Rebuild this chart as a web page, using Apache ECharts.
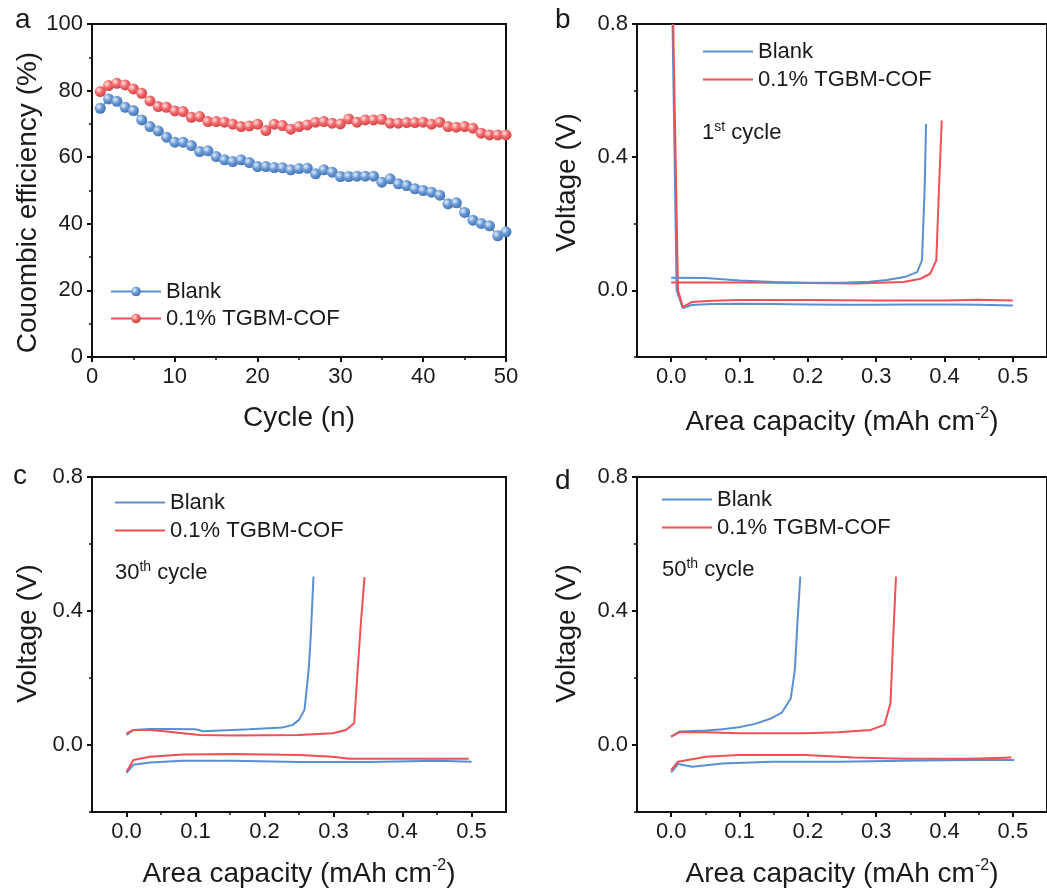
<!DOCTYPE html>
<html>
<head>
<meta charset="utf-8">
<script src="https://cdn.jsdelivr.net/npm/echarts@6/dist/echarts.min.js"></script>
<style>
html,body{margin:0;padding:0;background:#fff;}
#chart{width:1047px;height:892px;}
</style>
</head>
<body>
<div id="chart"></div>
<script>
// ---------- Data ----------
const cycles = [1,2,3,4,5,6,7,8,9,10,11,12,13,14,15,16,17,18,19,20,21,22,23,24,25,26,27,28,29,30,31,32,33,34,35,36,37,38,39,40,41,42,43,44,45,46,47,48,49,50];
const ceBlank = [74.7,77.5,76.8,75.0,74.0,71.2,69.2,67.9,66.0,64.5,64.5,63.5,61.7,61.9,60.2,59.2,58.7,59.2,58.4,57.2,57.2,56.9,56.8,56.2,56.6,56.7,55.0,56.2,55.5,54.2,54.2,54.3,54.3,54.3,52.5,53.5,52.0,51.5,50.5,50.0,49.5,48.6,46.0,46.3,43.4,41.1,40.1,39.4,36.4,37.6];
const ceCOF = [79.7,81.5,82.2,81.7,80.5,79.2,76.9,75.2,75.0,73.9,73.7,72.0,72.2,70.7,70.7,70.5,69.9,69.2,69.4,69.9,68.0,69.9,69.5,68.4,69.2,69.7,70.5,70.7,70.2,70.0,71.5,70.5,71.2,71.2,71.4,70.2,70.2,70.4,70.4,70.5,69.9,70.5,69.2,69.0,69.2,68.7,67.2,66.7,66.7,66.7];

const ceXTicks = [0,10,20,30,40,50];
const ceYTicks = [0,20,40,60,80,100];
const capTicks = [0,0.1,0.2,0.3,0.4,0.5];
const capMinorTicks = [0.05,0.15,0.25,0.35,0.45];
const voltTicks = [0,0.4,0.8];
const voltMinorTicks = [-0.2,0.2,0.6];

// 1st cycle: [capacity, voltage]
const c1BlankPlate = [[0.002,0.80],[0.008,0.0],[0.017,-0.053],[0.03,-0.044],[0.06,-0.041],[0.1,-0.040],[0.15,-0.041],[0.2,-0.042],[0.25,-0.043],[0.3,-0.043],[0.35,-0.042],[0.4,-0.042],[0.45,-0.043],[0.5,-0.045]];
const c1BlankStrip = [[0.0,0.038],[0.05,0.037],[0.1,0.030],[0.15,0.025],[0.2,0.023],[0.25,0.023],[0.29,0.026],[0.316,0.031],[0.341,0.040],[0.360,0.055],[0.367,0.090],[0.371,0.31],[0.373,0.50]];
const c1CofPlate = [[0.003,0.80],[0.010,0.0],[0.017,-0.050],[0.03,-0.035],[0.06,-0.031],[0.1,-0.029],[0.2,-0.029],[0.3,-0.030],[0.4,-0.030],[0.45,-0.028],[0.5,-0.030]];
const c1CofStrip = [[0.0,0.024],[0.1,0.024],[0.2,0.022],[0.27,0.021],[0.34,0.025],[0.365,0.035],[0.379,0.050],[0.388,0.090],[0.392,0.31],[0.396,0.51]];

// 30th cycle
const c30BlankStrip = [[0.0,0.030],[0.01,0.045],[0.034,0.048],[0.058,0.048],[0.10,0.047],[0.111,0.041],[0.178,0.047],[0.226,0.052],[0.241,0.060],[0.250,0.075],[0.258,0.105],[0.264,0.224],[0.267,0.324],[0.271,0.503]];
const c30BlankPlate = [[0.0,-0.083],[0.01,-0.059],[0.034,-0.052],[0.082,-0.047],[0.154,-0.047],[0.25,-0.051],[0.35,-0.051],[0.45,-0.047],[0.5,-0.050]];
const c30CofStrip = [[0.0,0.035],[0.01,0.045],[0.034,0.045],[0.058,0.040],[0.106,0.030],[0.154,0.028],[0.25,0.030],[0.299,0.035],[0.318,0.045],[0.330,0.065],[0.335,0.224],[0.340,0.373],[0.345,0.501]];
const c30CofPlate = [[0.0,-0.080],[0.01,-0.045],[0.034,-0.035],[0.082,-0.028],[0.154,-0.027],[0.25,-0.030],[0.299,-0.035],[0.323,-0.041],[0.395,-0.041],[0.45,-0.041],[0.496,-0.041]];

// 50th cycle
const c50BlankStrip = [[0.0,0.025],[0.012,0.040],[0.051,0.043],[0.075,0.047],[0.099,0.053],[0.123,0.063],[0.147,0.080],[0.162,0.097],[0.175,0.139],[0.181,0.224],[0.185,0.373],[0.189,0.503]];
const c50BlankPlate = [[0.0,-0.082],[0.010,-0.057],[0.031,-0.065],[0.075,-0.055],[0.147,-0.050],[0.244,-0.050],[0.34,-0.047],[0.437,-0.045],[0.502,-0.045]];
const c50CofStrip = [[0.0,0.025],[0.012,0.038],[0.051,0.038],[0.099,0.035],[0.196,0.035],[0.244,0.038],[0.292,0.045],[0.312,0.060],[0.321,0.125],[0.325,0.324],[0.329,0.503]];
const c50CofPlate = [[0.0,-0.075],[0.010,-0.050],[0.051,-0.035],[0.099,-0.030],[0.196,-0.030],[0.268,-0.037],[0.34,-0.041],[0.437,-0.041],[0.498,-0.037]];

const NAME_BLANK = 'Blank';
const NAME_COF = '0.1% TGBM-COF';

// ---------- Styles ----------
const FONT = 'Liberation Sans, Arial, Helvetica, sans-serif';
const BLUE = '#5b8fd0';
const RED = '#f04f53';
const INK = '#1a1a1a';
const TICK_FS = 22;
const TITLE_FS = 28;
const LEG_FS = 22;

function ball(c0, c1, c2) {
  return {type:'radial', x:0.35, y:0.35, r:0.75,
    colorStops:[{offset:0,color:c0},{offset:0.45,color:c1},{offset:1,color:c2}]};
}

const chart = echarts.init(document.getElementById('chart'), null, {renderer:'canvas'});

const grids = [
  {left:92, top:24, width:414, height:333},
  {left:637, top:24, width:414, height:333},
  {left:92, top:477, width:414, height:335},
  {left:637, top:477, width:414, height:335}
].map(g => Object.assign(g, {show:true, borderColor:'#111', borderWidth:2, backgroundColor:'transparent', containLabel:false}));

const lineAx = {show:true, onZero:false, lineStyle:{color:'#111', width:2}};
const labelStyle = {color:INK, fontSize:TICK_FS, fontFamily:FONT};

const supRich = {sup:{fontSize:16, fontFamily:FONT, color:INK, verticalAlign:'top', lineHeight:32}};

const xAxes = [];
const yAxes = [];

// panel a axes
xAxes.push({
  type:'value', gridIndex:0, min:ceXTicks[0], max:ceXTicks[ceXTicks.length-1], interval:10,
  axisLine:lineAx, splitLine:{show:false},
  axisTick:{show:true, inside:false, length:5, lineStyle:{color:'#111', width:2}},
  minorTick:{show:true, splitNumber:2, length:3, lineStyle:{color:'#111', width:1.5}},
  axisLabel:Object.assign({margin:9}, labelStyle),
  name:'Cycle (n)', nameLocation:'middle', nameGap:47,
  nameTextStyle:{fontSize:TITLE_FS, fontFamily:FONT, color:INK}
});
yAxes.push({
  type:'value', gridIndex:0, min:ceYTicks[0], max:ceYTicks[ceYTicks.length-1], interval:20,
  axisLine:lineAx, splitLine:{show:false},
  axisTick:{show:true, inside:false, length:5, lineStyle:{color:'#111', width:2}},
  minorTick:{show:true, splitNumber:2, length:3, lineStyle:{color:'#111', width:1.5}},
  axisLabel:Object.assign({margin:9}, labelStyle),
  name:'Couombic efficiency (%)', nameLocation:'middle', nameGap:50,
  nameTextStyle:{fontSize:TITLE_FS, fontFamily:FONT, color:INK, padding:[0,24,0,0]}
});

function voltageAxes(gi, xGap, yGap, yPad) {
  xAxes.push({
    type:'value', gridIndex:gi, min:-0.05, max:0.55,
    axisLine:lineAx, splitLine:{show:false},
    axisTick:{show:true, inside:false, length:5, customValues:capTicks, lineStyle:{color:'#111', width:2}},
    axisLabel:Object.assign({margin:9, customValues:capTicks, formatter:v => v.toFixed(1)}, labelStyle),
    name:'Area capacity (mAh cm{sup|-2})', nameLocation:'middle', nameGap:xGap,
    nameTextStyle:{fontSize:TITLE_FS, fontFamily:FONT, color:INK, rich:supRich}
  });
  xAxes.push({
    type:'value', gridIndex:gi, min:-0.05, max:0.55, position:'bottom',
    axisLine:{show:false, onZero:false}, splitLine:{show:false},
    axisTick:{show:true, inside:false, length:3, customValues:capMinorTicks, lineStyle:{color:'#111', width:1.5}},
    axisLabel:{show:false}
  });
  yAxes.push({
    type:'value', gridIndex:gi, min:-0.2, max:0.8,
    axisLine:lineAx, splitLine:{show:false},
    axisTick:{show:true, inside:false, length:5, customValues:voltTicks, lineStyle:{color:'#111', width:2}},
    axisLabel:Object.assign({margin:9, customValues:voltTicks, formatter:v => v.toFixed(1)}, labelStyle),
    name:'Voltage (V)', nameLocation:'middle', nameGap:yGap,
    nameTextStyle:{fontSize:TITLE_FS, fontFamily:FONT, color:INK, padding:yPad}
  });
  yAxes.push({
    type:'value', gridIndex:gi, min:-0.2, max:0.8, position:'left',
    axisLine:{show:false, onZero:false}, splitLine:{show:false},
    axisTick:{show:true, inside:false, length:3, customValues:voltMinorTicks, lineStyle:{color:'#111', width:1.5}},
    axisLabel:{show:false}
  });
}
voltageAxes(1, 49, 56, [0,0,0,16]);
voltageAxes(2, 46, 50, [0,0,0,22]);
voltageAxes(3, 46, 56, [0,0,0,22]);

const series = [];
series.push({
  type:'line', name:NAME_BLANK, xAxisIndex:0, yAxisIndex:0,
  data:cycles.map((c,i) => [c, ceBlank[i]]),
  symbol:'circle', symbolSize:11, showSymbol:true,
  lineStyle:{color:BLUE, width:1.5},
  itemStyle:{color:ball('#e4eefa', '#6a9ad6', '#3a6aa8')},
  z:3
});
series.push({
  type:'line', name:NAME_COF, xAxisIndex:0, yAxisIndex:0,
  data:cycles.map((c,i) => [c, ceCOF[i]]),
  symbol:'circle', symbolSize:11, showSymbol:true,
  lineStyle:{color:RED, width:1.5},
  itemStyle:{color:ball('#fde6e6', '#f2696b', '#c83c3e')},
  z:3
});

function vLine(name, color, data, xi, yi) {
  series.push({type:'line', name:name, xAxisIndex:xi, yAxisIndex:yi, data:data,
    symbol:'none', showSymbol:false, lineStyle:{color:color, width:2}, itemStyle:{color:color}, clip:true});
}
vLine(NAME_BLANK, BLUE, c1BlankPlate, 1, 1);
vLine(NAME_COF, RED, c1CofPlate, 1, 1);
vLine(NAME_COF, RED, c1CofStrip, 1, 1);
vLine(NAME_BLANK, BLUE, c1BlankStrip, 1, 1);

vLine(NAME_BLANK, BLUE, c30BlankPlate, 3, 3);
vLine(NAME_COF, RED, c30CofPlate, 3, 3);
vLine(NAME_BLANK, BLUE, c30BlankStrip, 3, 3);
vLine(NAME_COF, RED, c30CofStrip, 3, 3);

vLine(NAME_BLANK, BLUE, c50BlankPlate, 5, 5);
vLine(NAME_COF, RED, c50CofPlate, 5, 5);
vLine(NAME_BLANK, BLUE, c50BlankStrip, 5, 5);
vLine(NAME_COF, RED, c50CofStrip, 5, 5);

function lineLegend(left, top) {
  return {
    left:left, top:top, orient:'vertical', itemWidth:50, itemHeight:2, itemGap:5,
    selectedMode:false, padding:0,
    textStyle:{fontSize:LEG_FS, fontFamily:FONT, color:INK, lineHeight:23, padding:[0,0,0,0]},
    data:[
      {name:NAME_BLANK, icon:'rect', itemStyle:{color:BLUE}},
      {name:NAME_COF, icon:'rect', itemStyle:{color:RED}}
    ]
  };
}

const legends = [
  {
    left:110, top:280, orient:'vertical', itemWidth:50, itemHeight:12, itemGap:4,
    selectedMode:false, padding:0,
    textStyle:{fontSize:LEG_FS, fontFamily:FONT, color:INK, lineHeight:23},
    data:[NAME_BLANK, NAME_COF]
  },
  lineLegend(703, 40),
  lineLegend(115, 491),
  lineLegend(662, 488)
];

function label(text, left, top, fs) {
  return {text:text, left:left, top:top, padding:0,
    textStyle:{fontSize:fs, fontWeight:'normal', fontFamily:FONT, color:INK,
      rich:{sup:{fontSize:14, fontFamily:FONT, color:INK, verticalAlign:'top', lineHeight:26},
            n:{fontSize:fs, fontFamily:FONT, color:INK, lineHeight:26}}}};
}

const titles = [
  label('a', 15, 6, 28),
  label('b', 555, 6, 28),
  label('c', 13, 462, 28),
  label('d', 555, 467, 28),
  label('{n|1}{sup|st}{n| cycle}', 702, 120, 22),
  label('{n|30}{sup|th}{n| cycle}', 115, 560, 22),
  label('{n|50}{sup|th}{n| cycle}', 662, 557, 22)
];

chart.setOption({
  animation:false,
  backgroundColor:'#fff',
  title:titles,
  legend:legends,
  grid:grids,
  xAxis:xAxes,
  yAxis:yAxes,
  series:series
});
</script>
</body>
</html>
